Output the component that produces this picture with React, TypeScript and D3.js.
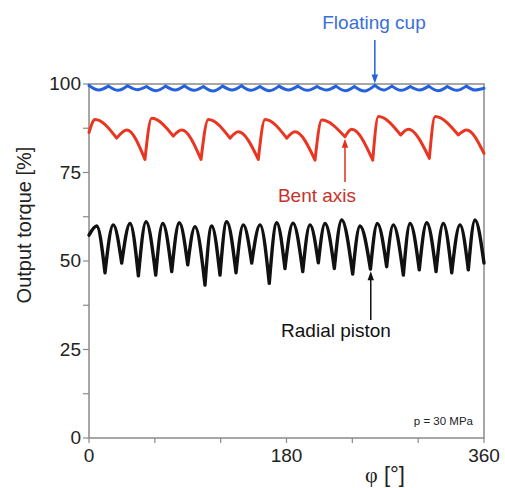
import React, { useEffect, useRef } from "react";
import * as d3 from "d3";

// [angle in degrees, output torque in %], cusp / top / cusp / top ...
const floatingCup: [number, number][] = [
  [0, 99.6], [8.9, 98.3], [17.8, 99.4], [26.5, 98.2], [35.1, 99.5], [43.8, 98.4],
  [52.4, 99.3], [61.1, 98.1], [69.7, 99.4], [78.4, 98.3], [87.0, 99.5], [95.7, 98.2],
  [104.3, 99.3], [113.0, 98.0], [121.7, 99.4], [130.4, 98.3], [139.0, 99.5], [147.4, 98.2],
  [155.8, 99.3], [164.5, 98.1], [173.1, 99.4], [181.8, 98.3], [190.4, 99.4], [199.1, 98.2],
  [207.8, 99.3], [216.5, 98.3], [225.1, 99.4], [233.5, 98.1], [241.9, 99.3], [251.0, 98.0],
  [260.5, 99.6], [268.4, 98.3], [276.1, 99.4], [284.5, 98.2], [292.9, 99.3], [301.3, 98.3],
  [309.7, 99.4], [318.1, 98.1], [326.5, 99.3], [335.2, 98.2], [343.8, 99.4], [351.9, 98.3],
  [360, 98.8],
];

const bentAxis: [number, number][] = [
  [0, 86.3], [5.5, 90.0], [25.2, 84.7], [34.4, 87.0], [51.0, 78.7],
  [57.1, 90.3], [76.8, 85.3], [84.5, 87.0], [102.1, 78.7],
  [108.7, 90.0], [128.5, 84.7], [136.1, 86.5], [154.3, 78.7],
  [160.4, 90.0], [180.2, 84.7], [187.7, 86.5], [206.0, 78.5],
  [212.1, 89.8], [233.3, 85.1], [239.4, 87.2], [258.6, 78.5],
  [263.7, 90.8], [284.1, 85.6], [291.0, 87.2], [310.2, 79.0],
  [315.4, 90.8], [336.6, 85.6], [344.2, 87.0], [360, 80.4],
];

const radialPiston: [number, number][] = [
  [0, 57.3], [7.0, 59.9], [14.6, 46.7], [22.1, 60.2], [29.8, 49.4], [37.4, 60.6],
  [45.0, 45.8], [52.0, 61.1], [60.8, 46.0], [67.2, 60.6], [75.4, 47.0], [82.3, 60.8],
  [90.0, 48.9], [96.6, 59.7], [105.7, 43.2], [111.8, 59.9], [119.4, 46.0], [125.5, 61.1],
  [134.0, 46.7], [140.6, 60.2], [148.3, 49.4], [155.9, 60.2], [164.3, 43.7], [171.1, 60.8],
  [178.6, 47.9], [185.9, 60.7], [194.8, 47.0], [201.4, 60.2], [209.0, 49.5], [215.1, 60.6],
  [223.6, 47.9], [230.3, 61.6], [240.3, 46.3], [247.0, 59.9], [256.5, 47.7], [262.8, 60.6],
  [271.3, 48.4], [277.3, 60.2], [286.5, 46.0], [292.6, 60.6], [301.0, 47.5], [307.8, 60.8],
  [316.3, 47.0], [322.9, 60.6], [330.6, 46.7], [338.1, 60.2], [345.7, 47.5], [351.8, 61.6],
  [360, 49.4],
];

const xTicks = [0, 60, 120, 180, 240, 300, 360];
const xTickLabels = [0, 180, 360];
const yTicks = [0, 12.5, 25, 37.5, 50, 62.5, 75, 87.5, 100];
const yTickLabels = [0, 25, 50, 75, 100];

const font = "'Liberation Sans', Arial, sans-serif";

export default function App() {
  const svgRef = useRef<SVGSVGElement>(null);

  useEffect(() => {
    const svg = d3.select(svgRef.current);
    svg.selectAll("*").remove();

    const x = d3.scaleLinear().domain([0, 360]).range([89, 484]);
    const y = d3.scaleLinear().domain([0, 100]).range([438, 84]);
    const axisColor = "#8a8a8a";

    // frame
    svg
      .append("rect")
      .attr("x", x(0))
      .attr("y", y(100))
      .attr("width", x(360) - x(0))
      .attr("height", y(0) - y(100))
      .attr("fill", "none")
      .attr("stroke", axisColor)
      .attr("stroke-width", 1.5);

    // ticks
    svg
      .selectAll(".yt")
      .data(yTicks)
      .enter()
      .append("line")
      .attr("x1", x(0) - 6)
      .attr("x2", x(0))
      .attr("y1", (d) => y(d))
      .attr("y2", (d) => y(d))
      .attr("stroke", axisColor)
      .attr("stroke-width", 1.2);

    svg
      .selectAll(".xt")
      .data(xTicks)
      .enter()
      .append("line")
      .attr("x1", (d) => x(d))
      .attr("x2", (d) => x(d))
      .attr("y1", y(0))
      .attr("y2", y(0) + 5)
      .attr("stroke", axisColor)
      .attr("stroke-width", 1.2);

    svg
      .selectAll(".yl")
      .data(yTickLabels)
      .enter()
      .append("text")
      .attr("x", x(0) - 8)
      .attr("y", (d) => y(d) + 6)
      .attr("text-anchor", "end")
      .attr("font-family", font)
      .attr("font-size", 19)
      .attr("fill", "#222")
      .text((d) => d);

    svg
      .selectAll(".xl")
      .data(xTickLabels)
      .enter()
      .append("text")
      .attr("x", (d) => x(d))
      .attr("y", 462)
      .attr("text-anchor", "middle")
      .attr("font-family", font)
      .attr("font-size", 19)
      .attr("fill", "#222")
      .text((d) => d);

    // axis titles
    svg
      .append("text")
      .attr("transform", "translate(31,225) rotate(-90)")
      .attr("text-anchor", "middle")
      .attr("font-family", font)
      .attr("font-size", 20)
      .attr("fill", "#222")
      .text("Output torque [%]");

    const xt = svg
      .append("text")
      .attr("x", 385)
      .attr("y", 482)
      .attr("text-anchor", "middle")
      .attr("font-family", font)
      .attr("font-size", 22)
      .attr("fill", "#222");
    xt.append("tspan").attr("font-family", "'Liberation Serif', serif").text("φ");
    xt.append("tspan").text(" [°]");

    svg
      .append("text")
      .attr("x", 473)
      .attr("y", 425)
      .attr("text-anchor", "end")
      .attr("font-family", font)
      .attr("font-size", 11.5)
      .attr("fill", "#222")
      .text("p = 30 MPa");

    // each curve is a chain of arches meeting in cusps
    const arch = d3
      .line<[number, number]>()
      .x((d) => x(d[0]))
      .y((d) => y(d[1]))
      .curve(d3.curveMonotoneX);
    const archPath = (pts: [number, number][]) => {
      let d = "";
      for (let i = 0; i + 2 < pts.length; i += 2) {
        d += arch([pts[i], pts[i + 1], pts[i + 2]]);
      }
      return d;
    };

    const series = [
      { data: radialPiston, color: "#111", width: 3.4 },
      { data: bentAxis, color: "#ea3520", width: 3 },
      { data: floatingCup, color: "#2461dc", width: 3 },
    ];
    svg
      .selectAll(".curve")
      .data(series)
      .enter()
      .append("path")
      .attr("d", (s) => archPath(s.data))
      .attr("fill", "none")
      .attr("stroke", (s) => s.color)
      .attr("stroke-width", (s) => s.width)
      .attr("stroke-linecap", "round")
      .attr("stroke-linejoin", "round");

    // annotations (arrow from the label towards the curve)
    const annotations = [
      { label: "Floating cup", deg: 260.5, value: 99.6, tail: 40, tx: 374, ty: 29, color: "#2461dc", text: "#3a6fd8" },
      { label: "Bent axis", deg: 233.3, value: 85.1, tail: 182, tx: 317, ty: 202, color: "#e0301c", text: "#c8322a" },
      { label: "Radial piston", deg: 256.8, value: 47.7, tail: 320, tx: 336, ty: 337, color: "#111", text: "#111" },
    ];
    annotations.forEach((a) => {
      const ax = x(a.deg);
      const dir = a.tail < y(a.value) ? -1 : 1; // -1: arrow points down
      const tip = y(a.value) + dir * 2;
      svg
        .append("line")
        .attr("x1", ax)
        .attr("x2", ax)
        .attr("y1", a.tail)
        .attr("y2", tip + dir * 6)
        .attr("stroke", a.color)
        .attr("stroke-width", 1.5);
      svg
        .append("path")
        .attr(
          "d",
          `M${ax},${tip} L${ax - 3.2},${tip + dir * 9} L${ax + 3.2},${tip + dir * 9} Z`
        )
        .attr("fill", a.color);
      svg
        .append("text")
        .attr("x", a.tx)
        .attr("y", a.ty)
        .attr("text-anchor", "middle")
        .attr("font-family", font)
        .attr("font-size", 19)
        .attr("fill", a.text)
        .text(a.label);
    });
  }, []);

  return (
    <svg
      ref={svgRef}
      width={505}
      height={488}
      style={{ position: "absolute", left: 0, top: 0, background: "#fff" }}
    />
  );
}
